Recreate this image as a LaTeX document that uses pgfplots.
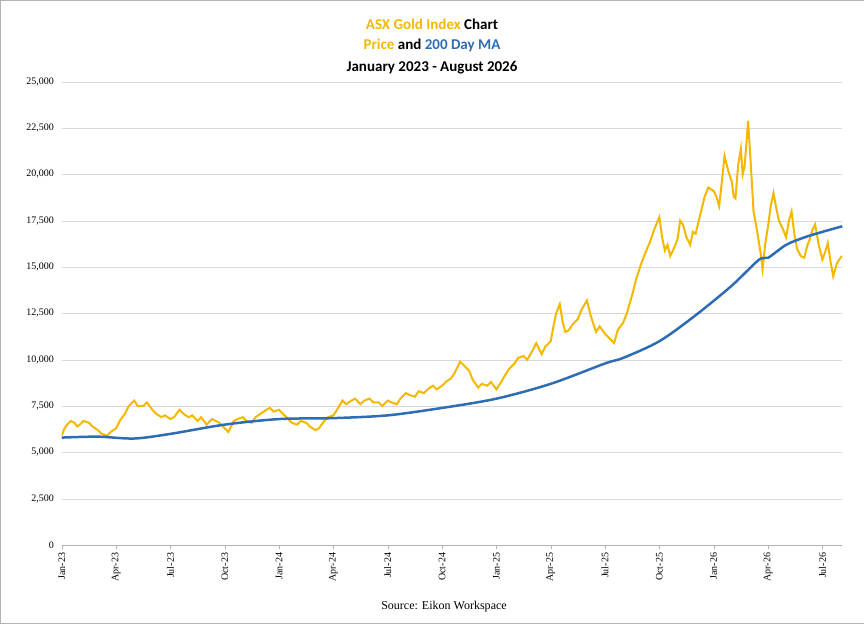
\documentclass[border=0pt]{standalone}
\usepackage{pgfplots}
\pgfplotsset{compat=1.18}
\usepackage{fontspec}
\setmainfont{Liberation Serif}
\newfontfamily\carl{Carlito}
\definecolor{gold}{HTML}{F5B800}
\definecolor{mablue}{HTML}{2E6DB4}
\begin{document}
\begin{tikzpicture}[x=1pt,y=1pt]
\path[use as bounding box,draw=gray!60] (0.5,0.5) rectangle (863.5,623.5);
\begin{axis}[at={(62pt,79pt)},anchor=south west,scale only axis,width=780pt,height=463pt,
 xmin=0,xmax=43.1,ymin=0,ymax=25000,
 ytick={0,2500,...,25000},ymajorgrids,grid style={gray!30},scaled y ticks=false,
 yticklabel style={/pgf/number format/fixed,/pgf/number format/1000 sep={,},/pgf/number format/assume math mode=true,font=\fontsize{10}{11}\selectfont},
 xtick={0,3,...,42},xticklabels={Jan-23,Apr-23,Jul-23,Oct-23,Jan-24,Apr-24,Jul-24,Oct-24,Jan-25,Apr-25,Jul-25,Oct-25,Jan-26,Apr-26,Jul-26},
 xticklabel style={rotate=90,anchor=east,font=\fontsize{10}{11}\selectfont},
 axis y line*=left, axis x line*=bottom, y axis line style={draw=none},
 x axis line style={gray!60}, ytick style={draw=none}, xtick style={gray!60},
 tick align=outside]
\addplot[gold,line width=2pt] coordinates {(0,5900)(0.15,6300)(0.3,6500)(0.5,6700)(0.7,6600)(0.85,6400)(1,6500)(1.2,6700)(1.5,6600)(1.7,6400)(2,6200)(2.2,6000)(2.5,5900)(2.7,6100)(3,6300)(3.2,6700)(3.5,7100)(3.7,7500)(4,7800)(4.2,7500)(4.5,7500)(4.7,7700)(5,7300)(5.2,7100)(5.5,6900)(5.7,7000)(6,6800)(6.2,6900)(6.5,7300)(6.7,7100)(7,6900)(7.2,7000)(7.5,6700)(7.7,6900)(8,6500)(8.3,6800)(8.5,6700)(8.7,6600)(9,6300)(9.2,6100)(9.5,6700)(9.7,6800)(10,6900)(10.2,6700)(10.5,6600)(10.7,6900)(11,7100)(11.3,7300)(11.5,7400)(11.7,7200)(12,7300)(12.2,7100)(12.5,6800)(12.7,6600)(13,6500)(13.2,6700)(13.5,6600)(13.7,6400)(14,6200)(14.2,6300)(14.5,6700)(14.7,6900)(15,7000)(15.2,7300)(15.5,7800)(15.7,7600)(16,7800)(16.2,7900)(16.5,7600)(16.7,7800)(17,7900)(17.2,7700)(17.5,7700)(17.7,7500)(18,7800)(18.2,7700)(18.5,7600)(18.7,7900)(19,8200)(19.2,8100)(19.5,8000)(19.7,8300)(20,8200)(20.2,8400)(20.5,8600)(20.7,8400)(21,8600)(21.2,8800)(21.5,9000)(21.7,9300)(22,9900)(22.2,9700)(22.5,9400)(22.7,8900)(23,8500)(23.2,8700)(23.5,8600)(23.7,8800)(24,8400)(24.2,8700)(24.5,9200)(24.7,9500)(25,9800)(25.2,10100)(25.5,10200)(25.7,10000)(26,10500)(26.2,10900)(26.5,10300)(26.7,10700)(27,11000)(27.15,11800)(27.3,12500)(27.5,13000)(27.65,12100)(27.8,11500)(28,11600)(28.2,11900)(28.5,12200)(28.7,12700)(29,13200)(29.2,12400)(29.5,11500)(29.7,11800)(30,11400)(30.2,11200)(30.5,10900)(30.7,11600)(31,12000)(31.2,12500)(31.5,13500)(31.7,14300)(32,15200)(32.2,15700)(32.5,16400)(32.7,17000)(33,17700)(33.15,16600)(33.3,15900)(33.45,16200)(33.6,15600)(33.8,16000)(34,16500)(34.15,17500)(34.3,17300)(34.5,16600)(34.7,16200)(34.85,16900)(35,16800)(35.2,17600)(35.5,18800)(35.7,19300)(36,19100)(36.15,18800)(36.3,18300)(36.45,19600)(36.6,21000)(36.8,20200)(37,19600)(37.1,18800)(37.2,18700)(37.35,20500)(37.5,21400)(37.6,20000)(37.7,20400)(37.8,21600)(37.9,22900)(38.05,20500)(38.2,18000)(38.35,17200)(38.5,16300)(38.6,15700)(38.7,14900)(38.85,16300)(39,17200)(39.15,18300)(39.3,19000)(39.45,18200)(39.6,17500)(39.8,17100)(40,16600)(40.15,17500)(40.3,18000)(40.45,16800)(40.6,16000)(40.8,15600)(41,15500)(41.15,16100)(41.3,16500)(41.45,17000)(41.6,17300)(41.8,16200)(42,15400)(42.15,15800)(42.3,16300)(42.45,15300)(42.6,14500)(42.8,15200)(43,15500)(43.1,15600)};
\addplot[mablue,line width=2.5pt,smooth] coordinates {(0,5800)(2,5850)(4,5750)(6,6000)(9,6500)(12,6800)(15,6850)(18,7000)(21,7400)(24,7900)(27,8700)(30,9800)(31,10100)(33,11000)(35,12400)(37,14000)(38.5,15400)(39,15500)(40,16200)(41,16600)(42,16900)(43.1,17200)};
\end{axis}
\node[font=\carl\bfseries\fontsize{15}{16}\selectfont] at (432,599) {\textcolor{gold}{ASX Gold Index} Chart};
\node[font=\carl\bfseries\fontsize{15}{16}\selectfont] at (432,578) {\textcolor{gold}{Price} and \textcolor{mablue}{200 Day MA}};
\node[font=\carl\bfseries\fontsize{15}{16}\selectfont] at (432,556) {January 2023 - August 2026};
\node[font=\fontsize{12}{13}\selectfont] at (444,18) {Source: Eikon Workspace};
\end{tikzpicture}
\end{document}
